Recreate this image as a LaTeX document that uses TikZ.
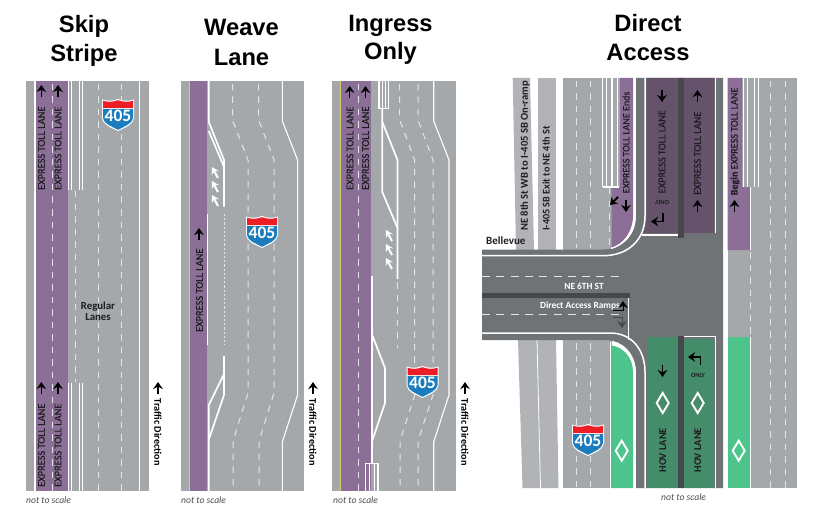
\documentclass[tikz,border=0pt]{standalone}
\usepackage{fontspec}
\setmainfont{Carlito}
\newfontfamily\titlefont{Liberation Sans}
\newfontfamily\lanefont[FakeBold=0.3]{Carlito}
\usetikzlibrary{arrows.meta}
\definecolor{road}{HTML}{A5A8AB}
\definecolor{ramp}{HTML}{B1B3B6}
\definecolor{tollp}{HTML}{8B6F96}
\definecolor{tolld}{HTML}{65536B}
\definecolor{dark}{HTML}{6F7376}
\definecolor{median}{HTML}{47484B}
\definecolor{hovd}{HTML}{458C6B}
\definecolor{hovb}{HTML}{4DC48C}
\definecolor{yel}{HTML}{D8CC78}
\definecolor{dashc}{HTML}{E4E5E6}
\definecolor{shred}{HTML}{EE1C25}
\definecolor{shblue}{HTML}{1B7DBE}
\definecolor{inkc}{HTML}{1E1E22}
\tikzset{
  titletxt/.style={font=\titlefont\bfseries\fontsize{23.7}{26}\selectfont,text=black,inner sep=0pt,anchor=base},
  lanetxt/.style={font=\lanefont\fontsize{10.4}{11}\selectfont,text=inkc,inner sep=0pt,rotate=90,anchor=west},
  dirtxt/.style={font=\bfseries\fontsize{10.2}{11}\selectfont,text=black,inner sep=0pt,rotate=-90,anchor=west},
  scaletxt/.style={font=\itshape\fontsize{9.6}{11}\selectfont,text=black!70,inner sep=0pt,anchor=west},
  dashw/.style={draw=dashc,line width=1pt,dash pattern=on 6.5pt off 6pt},
  dotw/.style={draw=dashc,line width=1pt,dash pattern=on 2.2pt off 2pt},
  solidw/.style={draw=white,line width=1.1pt},
  thickw/.style={draw=white,line width=1.7pt},
  blackarr/.style={draw=black,line width=1.4pt,-{Stealth[length=7pt,width=9.5pt]}},
  chev/.style={draw=white,line width=2pt,-{Stealth[length=7pt,width=8pt]}},
  gem/.style={draw=white,line width=1.9pt,line join=miter},
}
\newcommand{\shieldat}[3]{%
  \begin{scope}[shift={(#1,#2)}]
    \fill[white] (-16,-15.5) .. controls (-10,-13.5) and (-5,-14) .. (0,-16) .. controls (5,-14) and (10,-13.5) .. (16,-15.5) -- (16,3) .. controls (15,10) and (8,12) .. (0,16) .. controls (-8,12) and (-15,10) .. (-16,3) -- cycle;
    \fill[shblue] (-15,-6) -- (15,-6) -- (15,3) .. controls (14,9) and (7,11) .. (0,14.8) .. controls (-7,11) and (-14,9) .. (-15,3) -- cycle;
    \fill[shred] (-15,-14.3) .. controls (-10,-12.5) and (-5,-13) .. (0,-14.8) .. controls (5,-13) and (10,-12.5) .. (15,-14.3) -- (15,-7) -- (-15,-7) -- cycle;
    \node[font=\bfseries\fontsize{17.5}{18}\selectfont,text=white,inner sep=0pt] (#3) at (0,1.2) {405};
  \end{scope}}
\newcommand{\gemat}[2]{\draw[gem] (#1,#2-10) -- (#1+6,#2) -- (#1,#2+10) -- (#1-6,#2) -- cycle;}
\begin{document}
\begin{tikzpicture}[x=1pt,y=-1pt]
\useasboundingbox (0,0) rectangle (817,516);
% titles
\node[titletxt] (t1a) at (84,32.7) {Skip};
\node[titletxt] (t1b) at (84,61.7) {Stripe};
\node[titletxt] (t2a) at (241.5,36) {Weave};
\node[titletxt] (t2b) at (241.5,66) {Lane};
\node[titletxt] (t3a) at (390.5,31.7) {Ingress};
\node[titletxt] (t3b) at (390.5,60) {Only};
\node[titletxt] (t4a) at (648,32) {Direct};
\node[titletxt] (t4b) at (648,61) {Access};

%%% Panel 1
\fill[road] (26,81) rectangle (149,491);
\fill[tollp] (35,81) rectangle (68,491);
\draw[solidw] (35,81) -- (35,491);
\draw[solidw] (139.5,81) -- (139.5,491);
\foreach \xx in {52,98,121.5} \draw[dashw] (\xx,84) -- (\xx,491);
\draw[dashw] (75,191) -- (75,382);
\foreach \xx in {68.5,71.5,79.5,82.5}{
  \draw[solidw] (\xx,81) -- (\xx,190.5);
  \draw[solidw] (\xx,382.5) -- (\xx,491);}
\foreach \xx in {41.3,58}{
  \draw[blackarr] (\xx,97) -- (\xx,85);
  \draw[blackarr] (\xx,394) -- (\xx,382);}
\node[lanetxt] (a1) at (41.5,190) {EXPRESS TOLL LANE};
\node[lanetxt] (a2) at (58,190) {EXPRESS TOLL LANE};
\node[lanetxt] (a3) at (41.5,487) {EXPRESS TOLL LANE};
\node[lanetxt] (a4) at (58,487) {EXPRESS TOLL LANE};
\node[font=\bfseries\fontsize{10.8}{11.5}\selectfont,text=inkc,align=center,inner sep=0pt] (reg) at (98,311) {Regular\\Lanes};
\shieldat{118}{115}{s1}
\draw[blackarr] (158,394) -- (158,382);
\node[dirtxt] (d1) at (158,398.5) {Traffic Direction};
\node[scaletxt] (n1) at (26,500) {not to scale};

%%% Panel 2
\fill[road] (181,81) rectangle (304,491);
\fill[tollp] (190,81) rectangle (207.3,491);
\draw[yel,line width=0.9pt] (189.8,81) -- (189.8,491);
\draw[thickw] (208.8,81) -- (208.8,122) -- (224,160) -- (224,206.5);
\draw[thickw] (208.8,131) -- (224,167);
\draw[solidw] (207.3,214) -- (207.3,345);
\draw[dotw] (224,214) -- (224,345);
\draw[thickw] (224,356) -- (224,395) -- (209,439);
\draw[thickw] (224,374) -- (208.8,405) -- (208.8,491);
\draw[dashw] (232.5,84) -- (232.5,120) -- (248,160) -- (248,393) -- (233,441) -- (233,491);
\draw[dashw] (258.7,84) -- (258.7,120) -- (274,160) -- (274,393) -- (259,441) -- (259,491);
\draw[solidw] (282.3,81) -- (282.3,121) -- (297.6,160) -- (297.6,395) -- (282.3,442) -- (282.3,491);
\draw[chev] (218,178) -- (212,167);
\draw[chev] (218,192) -- (212,181);
\draw[chev] (218,206) -- (212,195);
\draw[blackarr] (199,240) -- (199,228);
\node[lanetxt] (b1) at (199.5,332) {EXPRESS TOLL LANE};
\shieldat{262}{232}{s2}
\draw[blackarr] (313,394) -- (313,382);
\node[dirtxt] (d2) at (313,398.5) {Traffic Direction};
\node[scaletxt] (n2) at (181,500) {not to scale};

%%% Panel 3
\fill[road] (332,81) rectangle (455.5,491);
\fill[tollp] (341,81) rectangle (371,491);
\draw[yel,line width=1.1pt] (340.8,81) -- (340.8,491);
\draw[dashw] (358,84) -- (358,491);
\draw[solidw] (379,81) -- (379,108.5) -- (388.5,108.5) -- (388.5,81);
\draw[solidw] (382.5,81) -- (382.5,108) (385.5,81) -- (385.5,108);
\draw[thickw] (382.3,109) -- (382.3,122) -- (397.5,160) -- (397.5,228);
\draw[thickw] (382.3,122) -- (382.3,192) -- (397.5,228) -- (397.5,279);
\draw[thickw] (371.8,276) -- (371.8,442);
\draw[thickw] (371.8,334) -- (385,368) -- (385,403) -- (371.8,442);
\draw[thickw] (371.8,442) -- (371.8,463);
\draw[solidw] (365.5,491) -- (365.5,463.5) -- (378,463.5) -- (378,491);
\draw[solidw] (369.5,491) -- (369.5,464) (374.5,491) -- (374.5,464);
\draw[dashw] (397.5,282) -- (397.5,348);
\draw[dashw] (399.7,84) -- (399.7,120) -- (414.7,160) -- (414.7,395) -- (400,441) -- (400,491);
\draw[dashw] (418,84) -- (418,120) -- (433,160) -- (433,395) -- (418,441) -- (418,491);
\draw[solidw] (433.7,81) -- (433.7,121) -- (449,160) -- (449,395) -- (433.7,442) -- (433.7,491);
\draw[chev] (392,241) -- (386,230);
\draw[chev] (392,255) -- (386,244);
\draw[chev] (392,269) -- (386,258);
\foreach \xx in {349.7,365.5} \draw[blackarr] (\xx,98) -- (\xx,86);
\node[lanetxt] (c1) at (350,190) {EXPRESS TOLL LANE};
\node[lanetxt] (c2) at (365.5,190) {EXPRESS TOLL LANE};
\shieldat{422.5}{382}{s3}
\draw[blackarr] (465,394) -- (465,382);
\node[dirtxt] (d3) at (465,398.5) {Traffic Direction};
\node[scaletxt] (n3) at (333,500) {not to scale};

%%% Panel 4 - side roads
\fill[ramp] (512.7,78) -- (530,78) -- (534,250) -- (516,250) -- cycle;
\fill[ramp] (538,78) -- (555.5,78) -- (555.5,250) -- (538,250) -- cycle;
\fill[ramp] (518,340) -- (556,340) -- (558.5,488) -- (522.5,488) -- cycle;
\draw[white,line width=0.8pt] (537,340) -- (540.5,488);
\fill[road] (563.3,78) rectangle (612,250);
\fill[road] (563.3,340) rectangle (612,488);
% upper toll wedge
\fill[road] (612,78) rectangle (619.3,187);
\fill[tollp] (619.3,78) -- (633,78) -- (633,216) .. controls (633,232) and (622,245) .. (611.5,248) -- (611.5,187) -- (619.3,187) -- cycle;
\foreach \xx in {602.5,606.7,612,617.5} \draw[solidw] (\xx,78) -- (\xx,187);
\draw[solidw] (603,187) -- (619,187);
\draw[dashw] (576,81) -- (576,248);
\draw[dashw] (590,81) -- (590,248);
\draw[dashw] (609.7,188) -- (609.7,248);
\draw[dashw] (576,343) -- (576,488);
\draw[dashw] (590,343) -- (590,488);
% lower left bright green
\fill[hovb] (611,345) .. controls (624,347) and (633,358) .. (633,372) -- (633,488) -- (611,488) -- cycle;
\draw[solidw] (610.5,342) -- (610.5,488);
% central dark road
\fill[dark] (482,249.5) -- (603,249.5) .. controls (622,249.5) and (636,236) .. (636,216) -- (636,78) -- (723,78) -- (723,488) -- (636,488) -- (636,372) .. controls (636,356) and (625,340) .. (605,340) -- (482,340) -- cycle;
% inner white edges
\draw[white,line width=1.4pt] (611,248.5) .. controls (624,245) and (634.7,232) .. (634.7,216) -- (634.7,78);
\draw[white,line width=1.4pt] (612,344.5) .. controls (625,347) and (634.7,358) .. (634.7,372) -- (634.7,488);
% outer white edges
\draw[white,line width=1.5pt] (482,255.7) -- (603,255.7) .. controls (628,255.7) and (645,240) .. (645,216) -- (645,78);
\draw[white,line width=1.5pt] (482,333) -- (610,333) .. controls (632,333) and (645,350) .. (645,372) -- (645,488);
% toll and HOV
\fill[tolld] (646.7,78) -- (714,78) -- (714,233) -- (643.5,233) .. controls (645.5,228) and (646.7,222) .. (646.7,216) -- cycle;
\draw[white,line width=1.5pt] (641.5,235) -- (678,235);
\fill[hovd] (648,337) rectangle (677.7,488);
\fill[hovd] (683.5,338.5) rectangle (714,488);
\draw[white,line width=1.5pt] (684,336.7) -- (715,336.7);
\fill[median] (677.7,78) rectangle (683.5,238);
\fill[median] (677.7,336) rectangle (683.5,488);
\draw[white,line width=1.1pt] (715.5,78) -- (715.5,233);
\draw[white,line width=1.1pt] (715.5,336) -- (715.5,488);
% NE 6th centre
\fill[median] (482,292.5) rectangle (630,298);
\draw[dashw,dash pattern=on 8pt off 6.3pt] (482,276.7) -- (625,276.7);
\draw[dashw,dash pattern=on 8pt off 6.3pt] (482,314) -- (625,314);
\draw[white,line width=1.2pt] (628.5,298) -- (628.5,340);
% right road
\fill[road] (727.7,78) rectangle (797,488);
\fill[tollp] (727.7,78) -- (742,78) -- (742,187) -- (750,187) -- (750,250) -- (727.7,250) -- cycle;
\fill[hovb] (727.7,337) rectangle (750,488);
\foreach \xx in {743.5,747.5,754.5,758.5} \draw[solidw] (\xx,78) -- (\xx,187);
\draw[white,line width=0.8pt] (750.6,187) -- (750.6,250);
\draw[dashw] (750.6,252) -- (750.6,337);
\draw[white,line width=0.9pt] (750.6,337) -- (750.6,488);
\draw[dashw] (770.7,81) -- (770.7,488);
\draw[dashw] (785,81) -- (785,488);
% gems
\gemat{621.7}{450.7}
\gemat{662.7}{403}
\gemat{697.7}{403}
\gemat{738.7}{450.7}
% labels
\node[lanetxt,font=\bfseries\fontsize{10.6}{11}\selectfont] (r1) at (525,231) {NE 8th St WB to I-405 SB On-ramp};
\node[lanetxt,font=\bfseries\fontsize{10.2}{11}\selectfont] (r2) at (546,231) {I-405 SB Exit to NE 4th St};
\node[font=\bfseries\fontsize{11}{12}\selectfont,text=inkc,inner sep=0pt,anchor=west] (bel) at (486,241) {Bellevue};
\node[font=\bfseries\fontsize{9.4}{10}\selectfont,text=white,inner sep=0pt] (st) at (584,286) {NE 6TH ST};
\node[font=\bfseries\fontsize{9.4}{10}\selectfont,text=white,inner sep=0pt] (da) at (580,306) {Direct Access Ramps};
\node[lanetxt,font=\lanefont\fontsize{10}{11}\selectfont] (e1) at (626,193.5) {EXPRESS TOLL LANE Ends};
\draw[blackarr] (626,200) -- (626,212);
\draw[blackarr,line width=1.9pt] (618,197) -- (610,205);
\node[lanetxt] (e2) at (662,193.5) {EXPRESS TOLL LANE};
\draw[blackarr] (662,90) -- (662,102);
\node[lanetxt] (e3) at (697.5,195) {EXPRESS TOLL LANE};
\draw[blackarr] (697.5,102) -- (697.5,90);
\draw[blackarr] (697.5,212) -- (697.5,200);
\node[font=\bfseries\fontsize{6.4}{7}\selectfont,text=inkc,inner sep=0pt,rotate=180] (on1) at (662,202.5) {ONLY};
\draw[blackarr,line width=1.8pt] (663,213) -- (663,221.5) -- (651,221.5);
\node[lanetxt,font=\lanefont\fontsize{10.2}{11}\selectfont] (e4) at (735,195.5) {{\bfseries Begin} EXPRESS TOLL LANE};
\draw[blackarr] (734.5,212) -- (734.5,200);
\node[lanetxt,font=\bfseries\fontsize{10.4}{11}\selectfont] (h1) at (662.7,472.7) {HOV LANE};
\node[lanetxt,font=\bfseries\fontsize{10.4}{11}\selectfont] (h2) at (697.7,472.7) {HOV LANE};
\draw[blackarr] (662.5,365) -- (662.5,377);
\draw[blackarr,line width=1.8pt] (700.5,365) -- (700.5,357) -- (688,357);
\node[font=\bfseries\fontsize{6.4}{7}\selectfont,text=inkc,inner sep=0pt] (on2) at (698,375.5) {ONLY};
\draw[blackarr,line width=1pt] (613,310.5) -- (623,310.5) -- (623,301);
\draw[blackarr,draw=median,line width=1pt] (613,317) -- (622,317) -- (622,328);
\shieldat{588}{440}{s4}
\node[scaletxt] (n4) at (661,497) {not to scale};
\end{tikzpicture}
\end{document}
